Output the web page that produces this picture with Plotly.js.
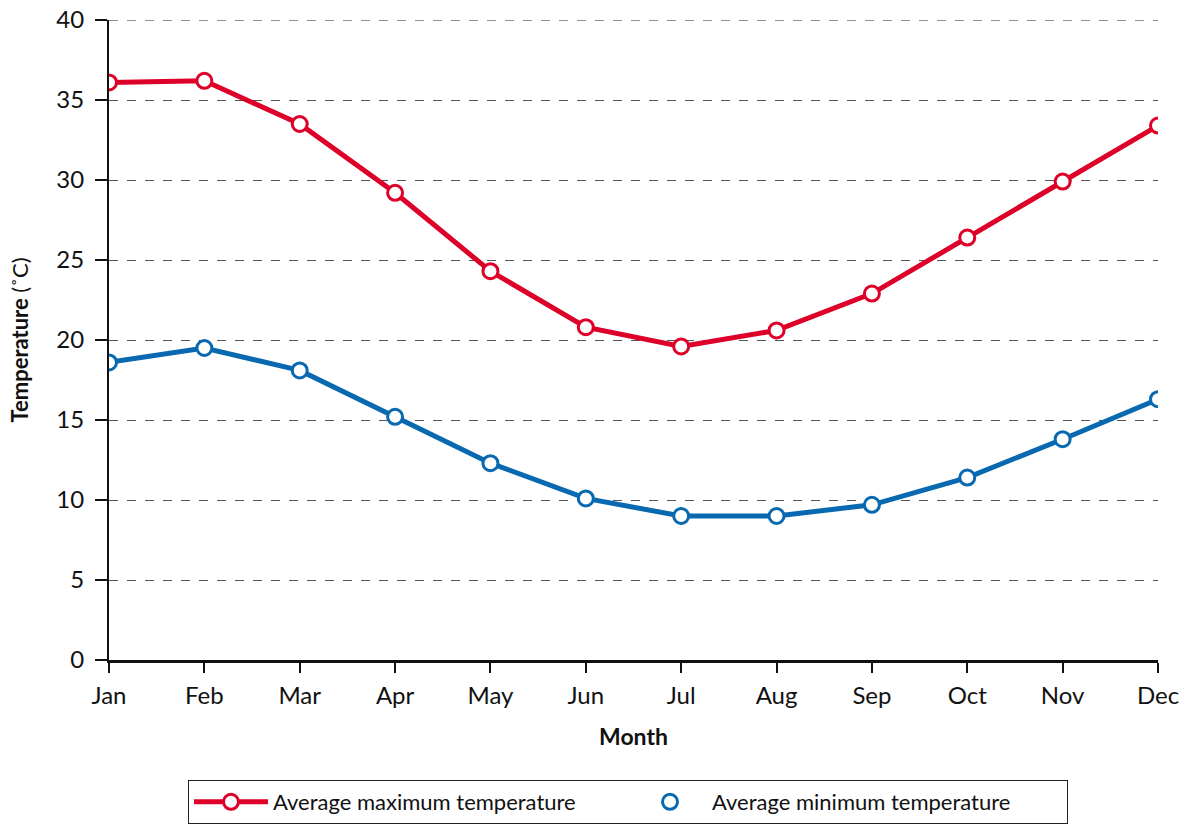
<!DOCTYPE html>
<html><head><meta charset="utf-8">
<script src="https://cdn.plot.ly/plotly-3.0.1.min.js"></script>
<style>html,body{margin:0;padding:0;background:#fff}#chart{width:1185px;height:825px}</style>
</head><body><div id="chart"></div>
<script>
const months = ["Jan","Feb","Mar","Apr","May","Jun","Jul","Aug","Sep","Oct","Nov","Dec"];
const maxTemp = [36.1, 36.2, 33.5, 29.2, 24.3, 20.8, 19.6, 20.6, 22.9, 26.4, 29.9, 33.4];
const minTemp = [18.6, 19.5, 18.1, 15.2, 12.3, 10.1, 9.0, 9.0, 9.7, 11.4, 13.8, 16.3];
const seriesNames = ["Average maximum temperature", "Average minimum temperature"];
const yMax = 40;
const red = "#DD0028", blue = "#0869B0";
const FONT = "Lato, 'Open Sans', sans-serif";

const traces = [
  {x: months, y: maxTemp, name: seriesNames[0], type: "scatter", mode: "lines+markers",
   line: {color: red, width: 5},
   marker: {size: 15, color: "#fff", line: {color: red, width: 3}}},
  {x: months, y: minTemp, name: seriesNames[1], type: "scatter", mode: "lines+markers",
   line: {color: blue, width: 5},
   marker: {size: 15, color: "#fff", line: {color: blue, width: 3}}, showlegend: false},
  {x: [months[0]], y: [null], name: seriesNames[1], type: "scatter", mode: "markers",
   marker: {size: 15, color: "#fff", line: {color: blue, width: 3}}, hoverinfo: "skip"}
];

const layout = {
  width: 1185, height: 825,
  margin: {l: 109, r: 27, t: 20, b: 165, autoexpand: false},
  paper_bgcolor: "#fff", plot_bgcolor: "#fff",
  font: {family: FONT, color: "#111", size: 24},
  showlegend: true,
  legend: {orientation: "h", x: (188-109)/1049, xanchor: "left", y: -0.1875, yanchor: "top",
    bordercolor: "#222", borderwidth: 1, font: {size: 22, family: FONT},
    entrywidth: 350, entrywidthmode: "pixels", itemwidth: 74},
  shapes: [{type: "line", xref: "paper", x0: 0, x1: 1, yref: "y", y0: yMax, y1: yMax,
    line: {color: "#222", width: 1, dash: "dash"}, layer: "below"}],
  xaxis: {type: "category", range: [0, 11], showgrid: false, zeroline: false,
    showline: true, linecolor: "#111", linewidth: 2.5,
    ticks: "outside", ticklen: 10, tickwidth: 1.5, tickcolor: "#111",
    tickfont: {size: 24}, ticklabelstandoff: 2,
    title: {text: "<b>Month</b>", font: {size: 23}, standoff: 22}},
  yaxis: {range: [0, yMax], dtick: 5, showgrid: true, gridcolor: "#555", griddash: "dash", gridwidth: 1,
    zeroline: false, showline: true, linecolor: "#111", linewidth: 2,
    ticks: "outside", ticklen: 12, tickwidth: 1.5, tickcolor: "#111",
    tickfont: {size: 24}, ticklabelstandoff: 6,
    title: {text: "<b>Temperature</b> (˚C)", font: {size: 22}, standoff: 22}}
};
Plotly.newPlot("chart", traces, layout, {displayModeBar: false});
</script></body></html>
